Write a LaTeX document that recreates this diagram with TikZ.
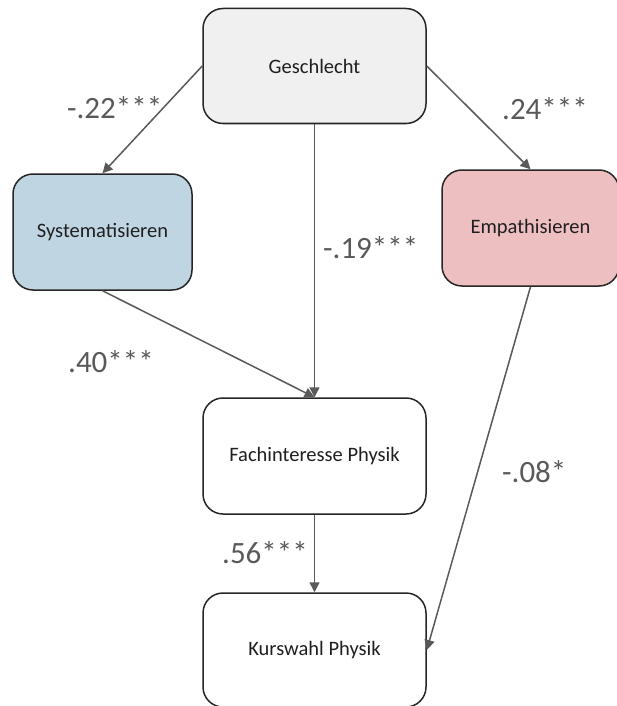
\documentclass[tikz,border=0pt]{standalone}
\usepackage{fontspec}
\setmainfont{Carlito}
\usetikzlibrary{arrows.meta}
\definecolor{edgegray}{HTML}{595959}
\definecolor{boxline}{HTML}{262626}
\definecolor{gfill}{HTML}{F0F0F0}
\definecolor{sfill}{HTML}{BFD5E2}
\definecolor{efill}{HTML}{EEBFC0}
\tikzset{
  box/.style={draw=boxline, line width=1.5pt, rounded corners=20pt, rectangle, inner sep=0pt,
    font=\fontsize{20.5}{23}\selectfont, text=black!88},
  conn/.style={draw=edgegray, line width=1.5pt, -{Triangle[length=10pt,width=10pt]}},
  coef/.style={inner sep=0pt, anchor=base west, text=edgegray, font=\fontsize{31}{34}\selectfont}
}
\begin{document}
\begin{tikzpicture}[x=1pt,y=-1pt]
\useasboundingbox (0,0) rectangle (617,706);
\node[box, fill=gfill, minimum width=223pt, minimum height=115pt] (g) at (314.5,66) {Geschlecht};
\node[box, fill=sfill, minimum width=179pt, minimum height=116pt] (s) at (102.5,232) {Systematisieren};
\node[box, fill=efill, minimum width=177pt, minimum height=116pt] (e) at (530.5,228) {Empathisieren};
\node[box, fill=white, minimum width=223pt, minimum height=116pt] (f) at (314.5,456) {Fachinteresse Physik};
\node[box, fill=white, minimum width=223pt, minimum height=114pt] (k) at (314.5,650) {Kurswahl Physik};
\draw[conn] (g.west) -- (s.north);
\draw[conn] (g.east) -- (e.north);
\draw[conn] (g.south) -- (f.north);
\draw[conn] (s.south) -- (f.north);
\draw[conn] (e.south) -- (k.east);
\draw[conn] (f.south) -- (k.north);
\node[coef] (l1) at (67,118) {-.22***};
\node[coef] (l2) at (502,120) {.24***};
\node[coef] (l3) at (323,258) {-.19***};
\node[coef] (l4) at (68,372) {.40***};
\node[coef] (l5) at (502,482) {-.08*};
\node[coef] (l6) at (222,563) {.56***};
\end{tikzpicture}
\end{document}
